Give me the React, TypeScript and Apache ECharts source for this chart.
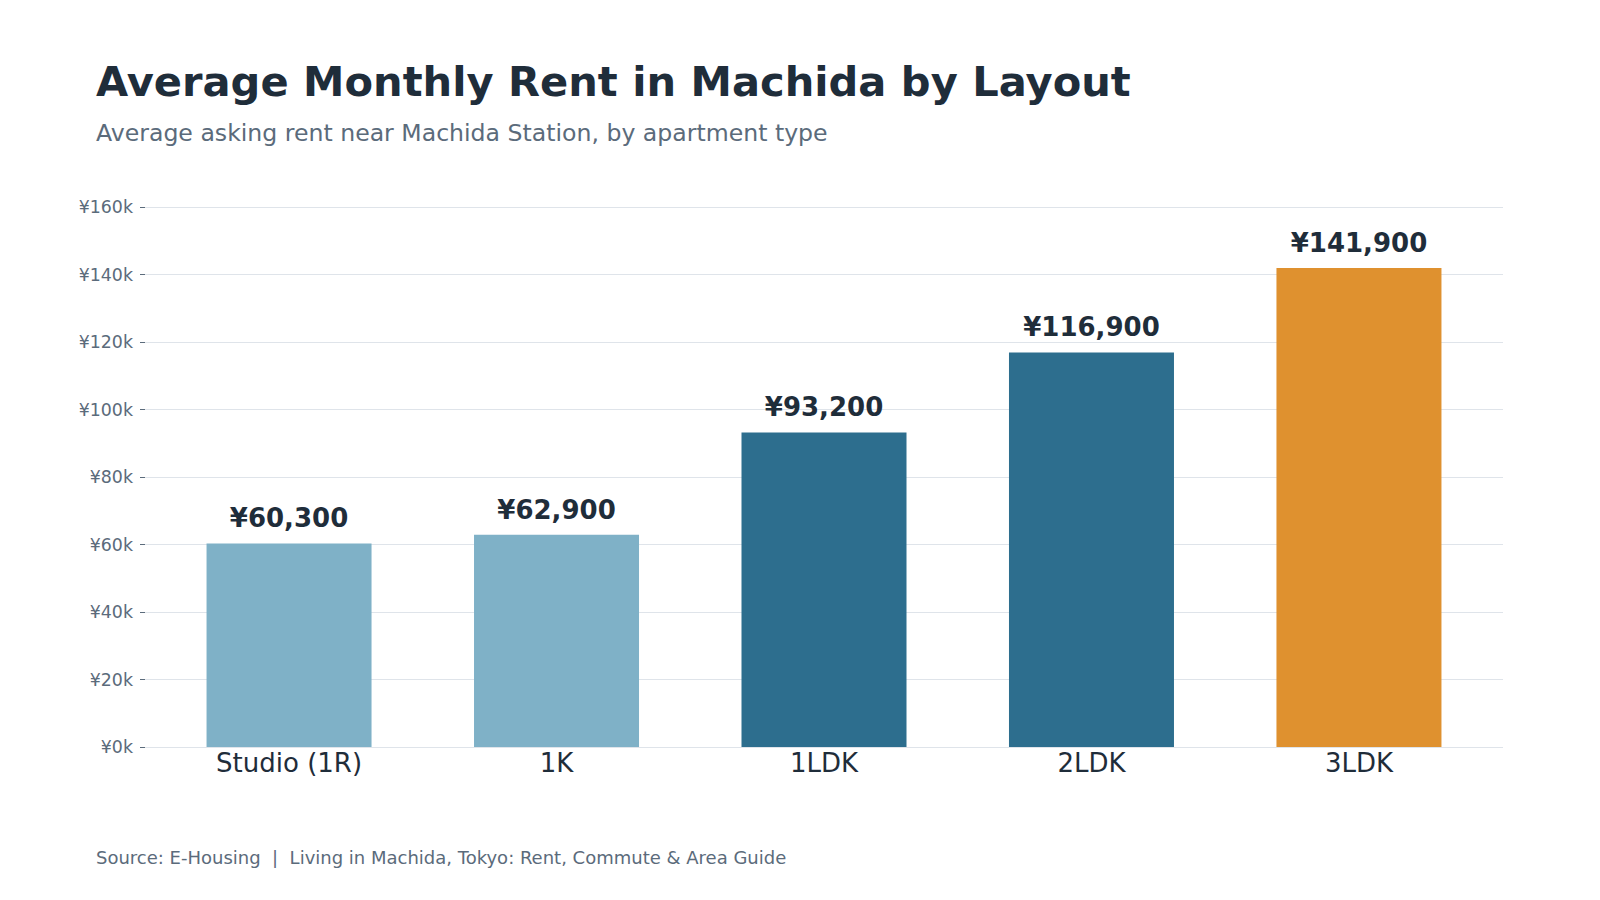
import React, { useEffect, useRef } from "react";
import * as echarts from "echarts";

// Layout categories and average asking rent (JPY / month)
const layouts = ["Studio (1R)", "1K", "1LDK", "2LDK", "3LDK"];
const rents = [60300, 62900, 93200, 116900, 141900];
const barColors = ["#7fb1c7", "#7fb1c7", "#2d6e8e", "#2d6e8e", "#df912f"];

const yMin = 0;
const yMax = 160000;
const yStep = 20000;

const FONT = "DejaVu Sans";
const DARK = "#1f2d3a";
const MUTED = "#5b6b7b";
const GRID = "#dfe4ea";

export default function App() {
  const ref = useRef<HTMLDivElement>(null);

  useEffect(() => {
    if (!ref.current) return;
    const chart = echarts.init(ref.current, undefined, { renderer: "svg" });

    const option: echarts.EChartsOption = {
      animation: false,
      backgroundColor: "#ffffff",
      textStyle: { fontFamily: FONT },
      graphic: [
        {
          type: "text",
          left: 96,
          top: 60,
          style: {
            text: "Average Monthly Rent in Machida by Layout",
            fontFamily: FONT,
            fontWeight: "bold",
            fontSize: 41.6,
            fill: DARK,
          },
        },
        {
          type: "text",
          left: 96,
          top: 121,
          style: {
            text: "Average asking rent near Machida Station, by apartment type",
            fontFamily: FONT,
            fontSize: 23.6,
            fill: MUTED,
          },
        },
        {
          type: "text",
          left: 96,
          top: 848,
          style: {
            text: "Source: E-Housing  |  Living in Machida, Tokyo: Rent, Commute & Area Guide",
            fontFamily: FONT,
            fontSize: 18,
            fill: MUTED,
          },
        },
      ],
      grid: [
        { left: 145, right: 97, top: 207, bottom: 153 },
        { left: 155.3, right: 107.3, top: 207, bottom: 153 },
      ],
      xAxis: [
        {
          type: "value",
          gridIndex: 0,
          show: false,
          min: 0,
          max: 1,
        },
        {
          type: "category",
          gridIndex: 1,
          data: layouts,
          axisLine: { show: false },
          axisTick: { show: false },
          axisLabel: {
            fontFamily: FONT,
            fontSize: 26,
            color: DARK,
            margin: 3,
          },
        },
      ],
      yAxis: [
        {
          type: "value",
          gridIndex: 0,
          min: yMin,
          max: yMax,
          interval: yStep,
          axisLine: { show: false },
          axisTick: {
            show: true,
            length: 5,
            lineStyle: { color: MUTED, width: 1 },
          },
          axisLabel: {
            fontFamily: FONT,
            fontSize: 17.4,
            color: MUTED,
            margin: 12,
            formatter: (v: number) => `¥${v / 1000}k`,
          },
          splitLine: { show: true, lineStyle: { color: GRID, width: 1 } },
        },
        {
          type: "value",
          gridIndex: 1,
          min: yMin,
          max: yMax,
          interval: yStep,
          show: false,
          splitLine: { show: false },
        },
      ],
      series: [
        {
          type: "bar",
          xAxisIndex: 1,
          yAxisIndex: 1,
          barWidth: 165,
          data: rents.map((v, i) => ({
            value: v,
            itemStyle: { color: barColors[i] },
          })),
          label: {
            show: true,
            position: "top",
            distance: 12,
            fontFamily: FONT,
            fontWeight: "bold",
            fontSize: 26,
            color: DARK,
            formatter: (p: any) => `¥${Number(p.value).toLocaleString("en-US")}`,
          },
        },
      ],
    };

    chart.setOption(option);
    return () => chart.dispose();
  }, []);

  return <div ref={ref} style={{ width: 1600, height: 900, margin: -8 }} />;
}
